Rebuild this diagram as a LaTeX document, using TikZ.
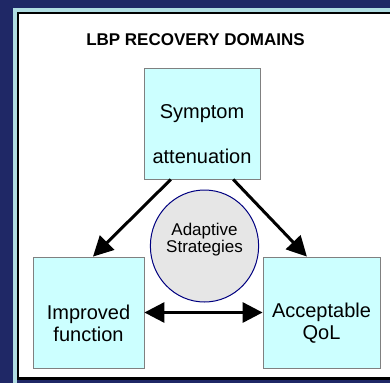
\documentclass[tikz,border=0pt]{standalone}
\usepackage{fontspec}
\setmainfont{Liberation Sans}
\usepackage{xcolor}
\usetikzlibrary{calc}
\usetikzlibrary{arrows.meta,shapes.geometric}
\definecolor{navyback}{RGB}{31,40,102}
\definecolor{framecyan}{RGB}{176,221,226}
\definecolor{boxcyan}{RGB}{204,255,255}
\definecolor{ovalgray}{RGB}{230,230,230}
\definecolor{ovalline}{RGB}{0,0,128}
\tikzset{
	domainbox/.style={draw=gray,line width=0.8pt,fill=boxcyan,minimum width=#1,minimum height=111pt,inner sep=0pt,align=center,font=\fontsize{20}{22}\selectfont},
	bighead/.tip={Triangle[length=20pt,width=20pt]},
	bigarrow/.style={line width=3pt},
}

\begin{document}
\begin{tikzpicture}[x=1pt,y=-1pt]
		\useasboundingbox (0,0) rectangle (390,383);
		\fill[navyback] (0,0) rectangle (390,383);
		\fill[framecyan] (13,8) rectangle (390,383);
		\fill[white] (17,12) rectangle (390,380);
		\draw[line width=2pt] (18,380) -- (18,13) -- (390,13);
		\draw[line width=3pt] (17,378.5) -- (390,378.5);
		\fill[navyback] (17,380) rectangle (390,383);
		\node[anchor=base,font=\bfseries\fontsize{17}{20}\selectfont] (title) at (195.5,45.7) {LBP RECOVERY DOMAINS};
		\node[domainbox=116pt,font=\fontsize{20}{45}\selectfont] (symptom) at (202,123.5) {\rule{0pt}{36pt}Symptom\\attenuation};
		\node[domainbox=111pt] (improved) at (88.5,312.5) {\rule{0pt}{36pt}Improved\\function};
		\node[domainbox=117pt] (qol) at (321.5,312.5) {\rule{0pt}{36pt}Acceptable\\QoL};
		\node[ellipse,draw=ovalline,line width=1pt,fill=ovalgray,minimum width=105pt,minimum height=112pt,inner sep=0pt,align=center,font=\fontsize{17}{17}\selectfont] (adaptive) at (204.5,246) {Adaptive\\Strategies\rule[-15.4pt]{0pt}{15.4pt}};
		\draw[bigarrow,-bighead] ($(symptom.south west)!0.233!(symptom.south east)$) -- ($(improved.north west)!0.54!(improved.north east)$);
		\draw[bigarrow,-bighead] ($(symptom.south west)!0.767!(symptom.south east)$) -- ($(qol.north west)!0.376!(qol.north east)$);
		\draw[bigarrow,bighead-bighead] (improved.east) -- (qol.west);
	\end{tikzpicture}
\end{document}
